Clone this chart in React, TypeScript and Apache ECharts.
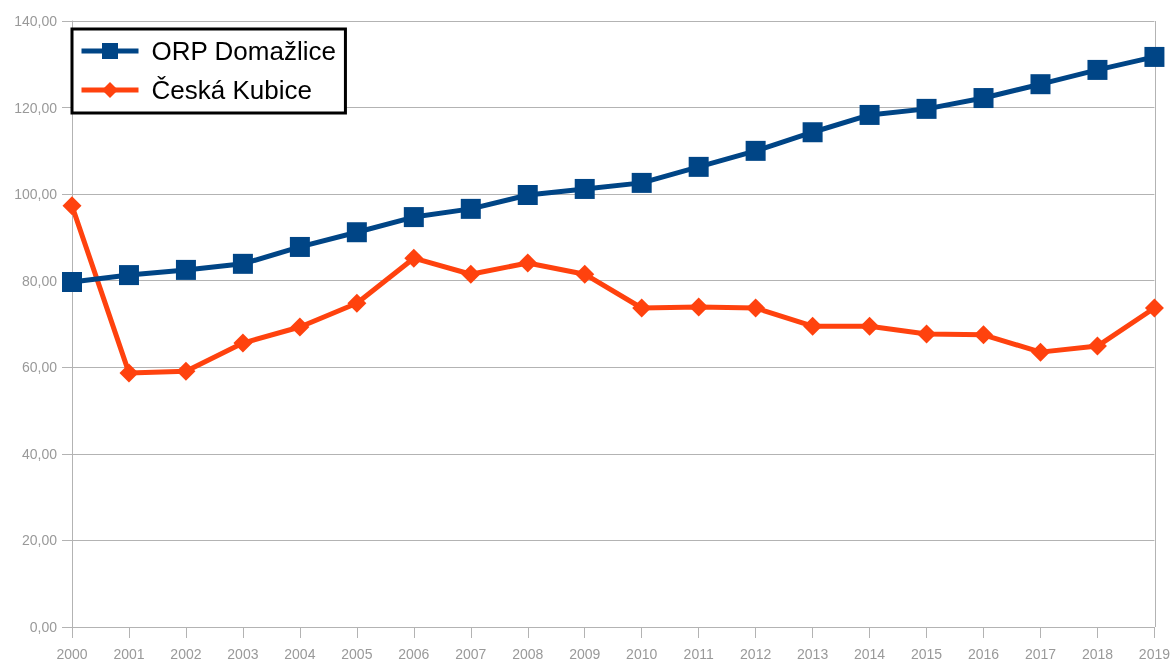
import React, { useEffect, useRef } from "react";
import * as echarts from "echarts";

const years = ["2000","2001","2002","2003","2004","2005","2006","2007","2008","2009","2010","2011","2012","2013","2014","2015","2016","2017","2018","2019"];
const orpDomazlice = [79.7,81.3,82.5,83.9,87.8,91.2,94.7,96.6,99.8,101.2,102.6,106.3,110.0,114.3,118.3,119.7,122.2,125.4,128.7,131.7];
const ceskaKubice = [97.3,58.7,59.1,65.6,69.3,74.8,85.2,81.5,84.1,81.5,73.7,73.9,73.7,69.5,69.5,67.7,67.5,63.5,64.9,73.7];

export default function App() {
  const ref = useRef<HTMLDivElement>(null);
  useEffect(() => {
    const chart = echarts.init(ref.current!, null, { renderer: "svg" });
    const font = "'Liberation Sans', Arial, sans-serif";
    chart.setOption({
      animation: false,
      textStyle: { fontFamily: font },
      grid: { left: 72, right: 18, top: 21, bottom: 35, containLabel: false, show: false },
      legend: {
        orient: "vertical",
        left: 72,
        top: 29,
        backgroundColor: "#fff",
        borderColor: "#000",
        borderWidth: 3,
        padding: [7, 9, 8, 7],
        itemGap: 9,
        itemWidth: 57,
        itemHeight: 20,
        lineStyle: { width: 5 },
        textStyle: { fontSize: 26, color: "#000", fontFamily: font, lineHeight: 30, padding: [0, 0, 0, 8] },
        data: ["ORP Domažlice", "Česká Kubice"],
      },
      xAxis: {
        type: "category",
        data: years,
        boundaryGap: false,
        axisLine: { lineStyle: { color: "#b3b3b3", width: 1 } },
        axisTick: { show: true, length: 11, lineStyle: { color: "#b3b3b3" } },
        axisLabel: { color: "#999", fontSize: 14, margin: 20, fontFamily: font },
        splitLine: { show: false },
      },
      yAxis: {
        type: "value",
        min: 0,
        max: 140,
        interval: 20,
        axisLine: { show: true, lineStyle: { color: "#b3b3b3", width: 1 } },
        axisTick: { show: true, length: 10, lineStyle: { color: "#b3b3b3" } },
        axisLabel: {
          color: "#999",
          fontSize: 14,
          margin: 15,
          fontFamily: font,
          formatter: (v: number) => v.toFixed(2).replace(".", ","),
        },
        splitLine: { show: true, lineStyle: { color: "#b3b3b3", width: 1 } },
      },
      series: [
        {
          name: "ORP Domažlice",
          type: "line",
          data: orpDomazlice,
          symbol: "rect",
          symbolSize: 20,
          lineStyle: { color: "#004586", width: 5 },
          itemStyle: { color: "#004586" },
          z: 3,
        },
        {
          name: "Česká Kubice",
          type: "line",
          data: ceskaKubice,
          symbol: "diamond",
          symbolSize: 19,
          lineStyle: { color: "#ff420e", width: 5 },
          itemStyle: { color: "#ff420e" },
          z: 2,
        },
      ],
      graphic: [
        {
          type: "line",
          shape: { x1: 1155.5, y1: 21, x2: 1155.5, y2: 627 },
          style: { stroke: "#b3b3b3", lineWidth: 1 },
          z: -1,
        },
      ],
    });
    return () => chart.dispose();
  }, []);
  return <div ref={ref} style={{ position: "fixed", left: 0, top: 0, width: 1173, height: 662 }} />;
}
